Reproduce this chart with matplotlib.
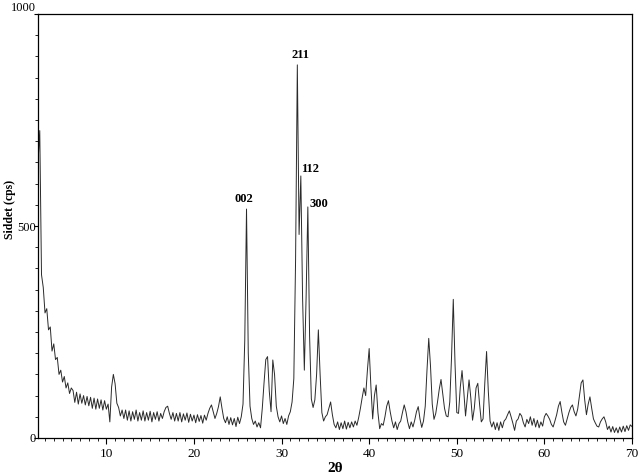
import matplotlib
matplotlib.use("Agg")
import matplotlib.pyplot as plt
import numpy as np

# scan: 2.2 .. 70.0 deg 2theta, step 0.2
scan_start, scan_step = 2.2, 0.2

counts = [
    650, 725, 385, 355, 295, 305, 255, 262, 205, 222,   # 2.2 - 4.0
    185, 190, 150, 160, 132, 145, 118, 130, 105, 118,   # 4.2 - 6.0
    112, 84, 108, 80, 104, 82, 100, 78, 98, 76,         # 6.2 - 8.0
    96, 70, 94, 68, 92, 70, 90, 66, 88, 68,             # 8.2 - 10.0
    80, 38, 120, 150, 128, 82, 72, 52, 66, 46,          # 10.2 - 12.0
    66, 42, 64, 40, 62, 44, 66, 40, 60, 42,             # 12.2 - 14.0
    64, 40, 60, 42, 63, 38, 60, 44, 62, 40,             # 14.2 - 16.0
    58, 46, 62, 72, 75, 58, 44, 60, 40, 58,             # 16.2 - 18.0
    40, 60, 38, 57, 42, 59, 37, 56, 40, 54,             # 18.2 - 20.0
    36, 55, 39, 53, 35, 54, 42, 58, 70, 78,             # 20.2 - 22.0
    62, 46, 58, 74, 97, 70, 46, 36, 50, 32,             # 22.2 - 24.0
    48, 31, 46, 27, 49, 34, 50, 80, 230, 540,           # 24.2 - 26.0
    200, 75, 46, 32, 40, 26, 36, 24, 70, 130,           # 26.2 - 28.0
    185, 192, 110, 62, 184, 150, 75, 50, 38, 52,        # 28.2 - 30.0
    34, 46, 32, 52, 62, 85, 140, 420, 880, 480,         # 30.2 - 32.0
    618, 330, 160, 330, 545, 240, 92, 72, 90, 150,      # 32.2 - 34.0
    255, 150, 60, 40, 50, 55, 70, 85, 55, 32,           # 34.2 - 36.0
    24, 38, 20, 36, 22, 40, 21, 37, 24, 38,             # 36.2 - 38.0
    26, 40, 30, 48, 70, 95, 118, 100, 160, 211,         # 38.2 - 40.0
    120, 45, 100, 125, 60, 22, 34, 30, 50, 75,          # 40.2 - 42.0
    88, 62, 40, 24, 38, 20, 34, 40, 60, 78,             # 42.2 - 44.0
    62, 38, 22, 38, 26, 42, 62, 74, 45, 25,             # 44.2 - 46.0
    40, 75, 160, 235, 170, 80, 44, 58, 85, 115,         # 46.2 - 48.0
    138, 105, 70, 52, 50, 85, 190, 327, 175, 60,        # 48.2 - 50.0
    58, 120, 159, 110, 52, 95, 137, 95, 42, 70,         # 50.2 - 52.0
    118, 129, 80, 38, 45, 130, 204, 110, 40, 26,        # 52.2 - 54.0
    38, 20, 36, 18, 38, 24, 40, 45, 55, 64,             # 54.2 - 56.0
    50, 35, 18, 40, 45, 58, 52, 36, 26, 44,             # 56.2 - 58.0
    34, 50, 30, 46, 26, 42, 24, 38, 28, 50,             # 58.2 - 60.0
    58, 52, 44, 32, 26, 40, 55, 75, 86, 60,             # 60.2 - 62.0
    38, 30, 45, 60, 72, 78, 62, 52, 68, 100,            # 62.2 - 64.0
    130, 137, 90, 55, 80, 97, 70, 45, 36, 28,           # 64.2 - 66.0
    26, 38, 45, 50, 38, 20, 28, 14, 27, 13,             # 66.2 - 68.0
    24, 12, 26, 14, 28, 15, 29, 18, 31, 27,             # 68.2 - 70.0
]
two_theta = np.round(scan_start + scan_step * np.arange(len(counts)), 2)

peak_labels = ["002", "211", "112", "300"]
peak_pos = [26.0, 31.8, 32.2, 33.0]
peak_int = [540, 880, 618, 545]

plt.rcParams["font.family"] = ["Liberation Serif", "DejaVu Serif"]

fig = plt.figure(figsize=(6.4, 4.74), dpi=100)
ax = fig.add_axes([38 / 640, 36 / 474, 594 / 640, 424 / 474])

ax.plot(two_theta, counts, color="#2a2a2a", lw=0.7)

# hkl labels
offsets = {"002": (-2, 3, "center", "bottom"),
           "211": (2, 3, "center", "bottom"),
           "112": (0, 5, "left", "center"),
           "300": (1, 2, "left", "center")}
for lab, x, y in zip(peak_labels, peak_pos, peak_int):
    dx, dy, ha, va = offsets[lab]
    ax.annotate(lab, (x, y), xytext=(dx, dy), textcoords="offset points",
                ha=ha, va=va, fontsize=9, fontweight="bold")

ax.set_xlim(2.2, 70)
ax.set_ylim(0, 1000)
ax.set_xticks(np.arange(10, 71, 10))
ax.set_xticks(np.arange(3, 71, 1), minor=True)
ax.set_yticks([0, 500, 1000])
ax.set_yticks(np.arange(0, 1001, 50), minor=True)
ax.tick_params(axis="x", which="major", direction="out", length=4,
               width=0.8, labelsize=9.5, pad=3)
ax.tick_params(axis="y", which="major", direction="out", length=3,
               width=0.8, labelsize=9, pad=-1.5)
ax.tick_params(axis="both", which="minor", direction="out", length=2.2,
               width=0.6)
ax.tick_params(top=False, right=False)
for lbl in ax.get_yticklabels():
    if lbl.get_text() == "1000":
        lbl.set_va("bottom")

for s in ax.spines.values():
    s.set_linewidth(0.9)

ax.set_xlabel("2θ", fontsize=11, fontweight="bold", labelpad=2)
ax.set_ylabel("Siddet (cps)", fontsize=8.5, fontweight="bold")
ax.yaxis.set_label_coords(-0.0362, 0.54)

fig.savefig("out.png", dpi=100)
